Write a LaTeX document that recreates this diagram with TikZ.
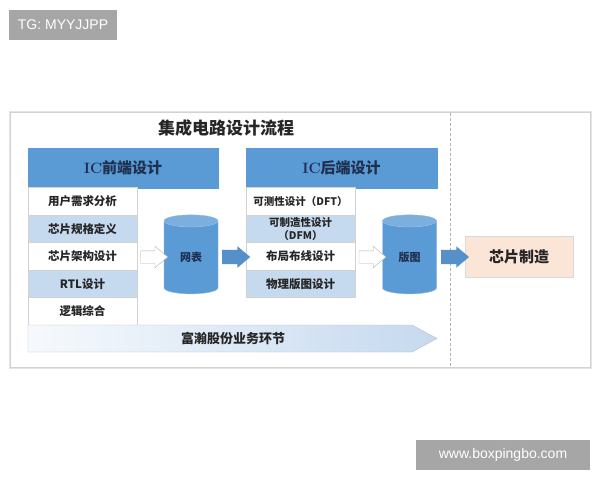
\documentclass[tikz,border=0pt]{standalone}
\usepackage{fontspec}
\newfontfamily\cjk{Noto Sans CJK SC}
\newfontfamily\wmfont{Liberation Sans}
\usetikzlibrary{shapes, shapes.geometric, shapes.arrows, positioning, calc}
\definecolor{hdblue}{HTML}{5B9BD5}
\definecolor{rowblue}{HTML}{C5D9EF}
\definecolor{arblue}{HTML}{5590C9}
\definecolor{peach}{HTML}{FBE5D6}
\definecolor{navy}{HTML}{1F2F4F}
\definecolor{txtgray}{HTML}{262626}
\definecolor{wmgray}{HTML}{A6A6A6}

\begin{document}
\begin{tikzpicture}[x=1pt, y=-1pt,
	row/.style={draw=gray!35, line width=0.6pt, minimum width=109pt, minimum height=27.5pt, inner sep=0pt, align=center, text=txtgray, font=\cjk\bfseries\fontsize{11.5}{13}\selectfont},
	header/.style={fill=hdblue, draw=hdblue, minimum width=190pt, minimum height=40pt, inner sep=0pt, text=navy, font=\bfseries\fontsize{15}{18}\selectfont},
	drum/.style={cylinder, shape border rotate=90, aspect=0.55, minimum width=54pt, minimum height=79pt, inner sep=0pt, cylinder uses custom fill, cylinder body fill=hdblue, cylinder end fill=hdblue!80!white, draw=hdblue!70!white, text=navy, font=\cjk\bfseries\fontsize{11}{13}\selectfont},
	hollow/.style={single arrow, draw=gray!60, fill=white, minimum height=27pt, inner xsep=0pt, inner ysep=6pt, single arrow head extend=4.5pt, single arrow tip angle=80},
	solid/.style={single arrow, fill=arblue, minimum height=28pt, inner xsep=0pt, inner ysep=7pt, single arrow head extend=3.5pt, single arrow tip angle=80},
	wm/.style={fill=wmgray, text=white, minimum height=30pt, inner sep=0pt, font=\wmfont\fontsize{14}{16}\selectfont}]

	\useasboundingbox (0,0) rectangle (600,480);

	% Watermarks
	\node[wm, minimum width=108pt] (tg) at (63, 25) {TG: MYYJJPP};
	\node[wm, minimum width=174pt] (site) at (503, 455) {www.boxpingbo.com};

	% Frame
	\draw[gray!20, line width=3pt] (10, 112) rectangle (590, 367);
	\draw[gray!35, fill=white, line width=0.8pt] (10, 112) rectangle (590, 367);
	\node[font=\cjk\bfseries\fontsize{17}{20}\selectfont, text=txtgray] (title) at (226, 128) {集成电路设计流程};

	% Front end
	\node[header] (fehead) at (123, 168) {IC{\cjk 前端设计}};
	\node[row, fill=white] (fe1) at (82.5, 201.5) {用户需求分析};
	\node[row, fill=rowblue] (fe2) at (82.5, 229) {芯片规格定义};
	\node[row, fill=white] (fe3) at (82.5, 256.5) {芯片架构设计};
	\node[row, fill=rowblue] (fe4) at (82.5, 284) {RTL设计};
	\node[row, fill=white] (fe5) at (82.5, 311.5) {逻辑综合};

	\node[drum] (netlist) at (191, 257.5) {网表};
	\node[hollow] (fearrow) at ($(fe3.east)!0.5!(netlist.west)$) {};

	% Back end
	\node[header, minimum width=191pt] (behead) at (341.5, 168) {IC{\cjk 后端设计}};
	\node[row, fill=white, font=\cjk\bfseries\fontsize{10.5}{13}\selectfont] (be1) at (300.5, 201.5) {可测性设计（DFT）};
	\node[row, fill=rowblue, font=\cjk\bfseries\fontsize{10.5}{13}\selectfont] (be2) at (300.5, 229) {可制造性设计\\（DFM）};
	\node[row, fill=white] (be3) at (300.5, 256.5) {布局布线设计};
	\node[row, fill=rowblue] (be4) at (300.5, 284) {物理版图设计};

	\node[solid] (midarrow) at ($(netlist.east)!0.5!(be3.west)$) {};

	\node[drum] (layout) at (409.5, 257.5) {版图};
	\node[hollow] (bearrow) at ($(be3.east)!0.5!(layout.west)$) {};

	% Divider
	\coordinate (dtop) at (450, 113);
	\coordinate (dbot) at (450, 366);
	\draw[gray!60, dash pattern=on 3pt off 2pt] (dtop) -- (dbot);

	% Fab
	\node[draw=gray!30, fill=peach, minimum width=108pt, minimum height=41pt, inner sep=0pt, text=txtgray, font=\cjk\bfseries\fontsize{15}{18}\selectfont] (fab) at (519, 256.5) {芯片制造};
	\node[solid] (fabarrow) at ($(layout.east)!0.5!(fab.west)$) {};

	% Business bar
	\draw[left color=rowblue!15, right color=rowblue, draw=gray!50] (28, 325) -- (412, 325) -- (437, 338.5) -- (412, 352) -- (28, 352) -- cycle;
	\node[text=txtgray, font=\cjk\bfseries\fontsize{13}{15}\selectfont] (biz) at (233, 338.5) {富瀚股份业务环节};

\end{tikzpicture}
\end{document}
